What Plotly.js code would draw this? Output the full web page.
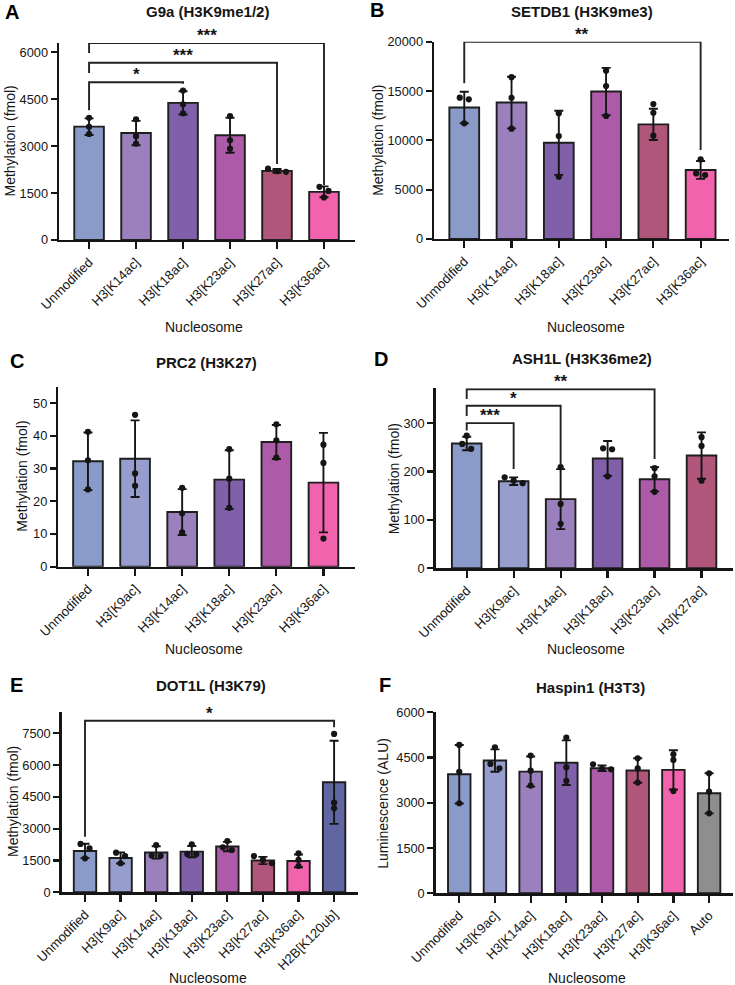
<!DOCTYPE html>
<html>
<head>
<meta charset="utf-8">
<script src="https://cdn.plot.ly/plotly-3.0.1.min.js"></script>
<style>html,body{margin:0;padding:0;background:#fff}#chart{width:735px;height:985px}</style>
</head>
<body>
<div id="chart"></div>
<script>
// ---------------- DATA ----------------
const catsA = ['Unmodified','H3[K14ac]','H3[K18ac]','H3[K23ac]','H3[K27ac]','H3[K36ac]'];
const meanA = [3625, 3420, 4385, 3350, 2210, 1540];
const sdA   = [265, 390, 370, 560, 60, 175];
const ptsA  = [[3910,3620,3390],[3860,3320,3085],[4780,4340,4050],[3965,3190,2920],[2180,2200,2280],[1700,1570,1360]];

const catsB = ['Unmodified','H3[K14ac]','H3[K18ac]','H3[K23ac]','H3[K27ac]','H3[K36ac]'];
const meanB = [13330, 13830, 9750, 14950, 11620, 7000];
const sdB   = [1600, 2620, 3250, 2400, 1590, 910];
const ptsB  = [[14330,14160,11730],[16400,14320,11180],[12740,10440,6320],[17060,15500,12470],[13680,12800,10470],[8070,6650,6490]];

const catsC = ['Unmodified','H3[K9ac]','H3[K14ac]','H3[K18ac]','H3[K23ac]','H3[K36ac]'];
const meanC = [32.2, 33.0, 16.7, 26.6, 38.1, 25.7];
const sdC   = [8.8, 11.7, 7.0, 9.0, 5.2, 15.2];
const ptsC  = [[41.2,32.5,23.6],[46.4,28.5,24.7],[24.1,16.3,10.5],[35.9,26.9,18.0],[43.5,38.6,33.3],[37.3,31.7,8.6]];

const catsD = ['Unmodified','H3[K9ac]','H3[K14ac]','H3[K18ac]','H3[K23ac]','H3[K27ac]'];
const meanD = [258, 180, 143, 227, 184, 233];
const sdD   = [14, 8, 62, 36, 25, 48];
const ptsD  = [[274,257,247],[188,181,176],[209,133,92],[248,246,190],[207,190,158],[271,253,181]];

const catsE = ['Unmodified','H3[K9ac]','H3[K14ac]','H3[K18ac]','H3[K23ac]','H3[K27ac]','H3[K36ac]','H2B[K120ub]'];
const meanE = [1950, 1620, 1880, 1920, 2160, 1500, 1480, 5190];
const sdE   = [340, 260, 290, 265, 220, 170, 300, 1960];
const ptsE  = [[2280,2075,1605],[1870,1710,1370],[2230,1735,1720],[2265,1810,1800],[2420,2125,1995],[1710,1525,1370],[1840,1525,1240],[7470,4230,3960]];

const catsF = ['Unmodified','H3[K9ac]','H3[K14ac]','H3[K18ac]','H3[K23ac]','H3[K27ac]','H3[K36ac]','Auto'];
const meanF = [3945, 4400, 4035, 4330, 4145, 4070, 4090, 3315];
const sdF   = [970, 370, 500, 740, 90, 405, 650, 665];
const ptsF  = [[4920,4030,2985],[4840,4290,4145],[4565,4065,3570],[5160,4180,3725],[4275,4125,4110],[4475,4145,3670],[4610,4420,3390],[3980,3370,2650]];

// significance comparisons: [fromIndex, toIndex, label]
const sigA = [[0,2,'*'],[0,4,'***'],[0,5,'***']];
const sigB = [[0,5,'**']];
const sigD = [[0,1,'***'],[0,2,'*'],[0,4,'**']];
const sigE = [[0,7,'*']];

// ---------------- STYLE / LAYOUT ----------------
const W = 735, H = 985;
const FONT = '"Liberation Sans", Arial, Helvetica, sans-serif';
const INK = '#151515';
const colorOf = {
  'Unmodified':'#8a9bc9','H3[K9ac]':'#979ecd','H3[K14ac]':'#9a80bc','H3[K18ac]':'#7f60a9',
  'H3[K23ac]':'#ad5ba8','H3[K27ac]':'#b0567a','H3[K36ac]':'#f163ac','H2B[K120ub]':'#5f66a2','Auto':'#8e8e8e'
};

// bracket geometry (data units): [level, leftLegBottom, rightLegBottom]
const panels = [
  {cats:catsA, mean:meanA, sd:sdA, pts:ptsA, sig:sigA, box:[59,355,43,240], yr:[0,6300], dtick:1500, xr:[-0.64,5.66],
   title:'G9a (H3K9me1/2)', tpos:[207,12], letter:'A', lpos:[3,11.5], ytitle:'Methylation (fmol)', ytx:10, xty:327, xtx:204,
   brk:[[5043,4150,5000],[5670,5340,2430],[6298,5980,1755]]},
  {cats:catsB, mean:meanB, sd:sdB, pts:ptsB, sig:sigB, box:[434,729,41.7,239], yr:[0,20000], dtick:5000, xr:[-0.64,5.6],
   title:'SETDB1 (H3K9me3)', tpos:[582,12], letter:'B', lpos:[368,10.5], ytitle:'Methylation (fmol)', ytx:378.5, xty:327, xtx:586,
   brk:[[20000,15780,9020]]},
  {cats:catsC, mean:meanC, sd:sdC, pts:ptsC, sig:[], box:[58.3,355,386.7,566.7], yr:[0,55], dtick:10, xr:[-0.63,5.67],
   title:'PRC2 (H3K27)', tpos:[206,362], letter:'C', lpos:[8,361], ytitle:'Methylation (fmol)', ytx:22, xty:649, xtx:204,
   brk:[]},
  {cats:catsD, mean:meanD, sd:sdD, pts:ptsD, sig:sigD, box:[435.7,733,388.3,568.3], yr:[0,372], dtick:100, xr:[-0.66,5.67],
   title:'ASH1L (H3K36me2)', tpos:[582,358], letter:'D', lpos:[372,359], ytitle:'Methylation (fmol)', ytx:394, xty:649, xtx:586,
   brk:[[300,285,205],[336,315,214],[370,350,226]]},
  {cats:catsE, mean:meanE, sd:sdE, pts:ptsE, sig:sigE, box:[61.7,358.3,711.7,892.3], yr:[0,8520], dtick:1500, xr:[-0.655,7.68],
   title:'DOT1L (H3K79)', tpos:[211,685], letter:'E', lpos:[7.5,685], ytitle:'Methylation (fmol)', ytx:13, xty:978, xtx:208,
   brk:[[8094,2625,7783]]},
  {cats:catsF, mean:meanF, sd:sdF, pts:ptsF, sig:[], box:[435.7,733,712.3,893.3], yr:[0,6000], dtick:1500, xr:[-0.66,7.67],
   title:'Haspin1 (H3T3)', tpos:[590,687], letter:'F', lpos:[377,685], ytitle:'Luminescence (ALU)', ytx:383, xty:978, xtx:587,
   brk:[]}
];

const px = x => x / W;
const py = y => 1 - y / H;

// horizontal spreading of dots that would overlap (column-scatter style)
function spread(vals, pxPerUnitY, pxPerCat) {
  const order = vals.map((v,i)=>i).sort((a,b)=>vals[b]-vals[a]);
  const clusters = []; let cur = [order[0]];
  for (let k=1;k<order.length;k++){
    if ((vals[order[k-1]] - vals[order[k]]) * pxPerUnitY < 5) cur.push(order[k]);
    else { clusters.push(cur); cur = [order[k]]; }
  }
  clusters.push(cur);
  const off = vals.map(()=>0);
  clusters.forEach(c => { const n=c.length; c.forEach((i,j)=>{ off[i] = (j-(n-1)/2) * 9 / pxPerCat; }); });
  return off;
}

const traces = [];
const layout = {
  width: W, height: H, margin:{l:0,r:0,t:0,b:0}, showlegend:false,
  paper_bgcolor:'#ffffff', plot_bgcolor:'rgba(0,0,0,0)',
  font:{family:FONT, color:INK}, annotations:[], bargap:0
};

panels.forEach((p, k) => {
  const n = k + 1;
  const xa = 'x' + (n===1?'':n), ya = 'y' + (n===1?'':n);
  const [l, r, t, b] = p.box;
  const pxPerUnitY = (b - t) / (p.yr[1] - p.yr[0]);
  const pxPerCat = (r - l) / (p.xr[1] - p.xr[0]);
  const idx = p.cats.map((c,i)=>i);

  layout['xaxis' + (n===1?'':n)] = {
    domain:[px(l), px(r)], anchor: ya, range: p.xr, tickvals: idx, ticktext: p.cats, tickangle: -45,
    ticks:'outside', ticklen:7, tickwidth:2.2, tickcolor:INK, showline:true, linewidth:2.4, linecolor:INK,
    showgrid:false, zeroline:false, fixedrange:true, tickfont:{family:FONT, size:13.2, color:INK}
  };
  layout['yaxis' + (n===1?'':n)] = {
    domain:[py(b), py(t)], anchor: xa, range: p.yr, dtick: p.dtick, tick0:0, tickformat:'d',
    ticks:'outside', ticklen:6, tickwidth:2.2, tickcolor:INK, showline:true, linewidth:2.4, linecolor:INK,
    showgrid:false, zeroline:false, fixedrange:true, tickfont:{family:FONT, size:12.8, color:INK}
  };

  traces.push({
    type:'bar', x: idx, y: p.mean, width: 0.63, xaxis: xa, yaxis: ya,
    marker:{color: p.cats.map(c=>colorOf[c]), line:{color:'#1e1e1e', width:1.9}},
    error_y:{type:'data', array:p.sd, visible:true, color:INK, thickness:1.9, width:4.5},
    hoverinfo:'skip'
  });

  const dx = [], dy = [];
  p.pts.forEach((vals, i) => {
    const off = spread(vals, pxPerUnitY, pxPerCat);
    vals.forEach((v, j) => { dx.push(i + off[j]); dy.push(v); });
  });
  traces.push({
    type:'scatter', mode:'markers', x: dx, y: dy, xaxis: xa, yaxis: ya, cliponaxis:false,
    marker:{color:INK, size:6.2}, hoverinfo:'skip'
  });

  p.sig.forEach((s, si) => {
    const [a, c, label] = s;
    const [lev, lb, rb] = p.brk[si];
    traces.push({
      type:'scatter', mode:'lines', x:[a, a, c, c], y:[lb, lev, lev, rb], xaxis: xa, yaxis: ya,
      cliponaxis:false, line:{color:'#222', width:1.9}, hoverinfo:'skip'
    });
    layout.annotations.push({
      xref: xa, yref: ya, x: (a + c) / 2, y: lev, text: label, showarrow:false,
      xanchor:'center', yanchor:'bottom', yshift:-4, font:{family:FONT, size:17, color:INK, weight:'bold'}
    });
  });

  // panel title, letter, axis titles
  layout.annotations.push({xref:'paper', yref:'paper', x:px(p.tpos[0]), y:py(p.tpos[1]), text:'<b>'+p.title+'</b>',
    showarrow:false, xanchor:'center', yanchor:'middle', font:{family:FONT, size:15, color:INK}});
  layout.annotations.push({xref:'paper', yref:'paper', x:px(p.lpos[0]), y:py(p.lpos[1]), text:'<b>'+p.letter+'</b>',
    showarrow:false, xanchor:'left', yanchor:'middle', font:{family:FONT, size:20, color:'#000'}});
  layout.annotations.push({xref:'paper', yref:'paper', x:px(p.ytx), y:py((t+b)/2), text:p.ytitle, textangle:-90,
    showarrow:false, xanchor:'center', yanchor:'middle', font:{family:FONT, size:14, color:INK}});
  layout.annotations.push({xref:'paper', yref:'paper', x:px(p.xtx), y:py(p.xty), text:'Nucleosome',
    showarrow:false, xanchor:'center', yanchor:'middle', font:{family:FONT, size:14, color:INK}});
});

Plotly.newPlot('chart', traces, layout, {staticPlot:true, displayModeBar:false});
</script>
</body>
</html>
